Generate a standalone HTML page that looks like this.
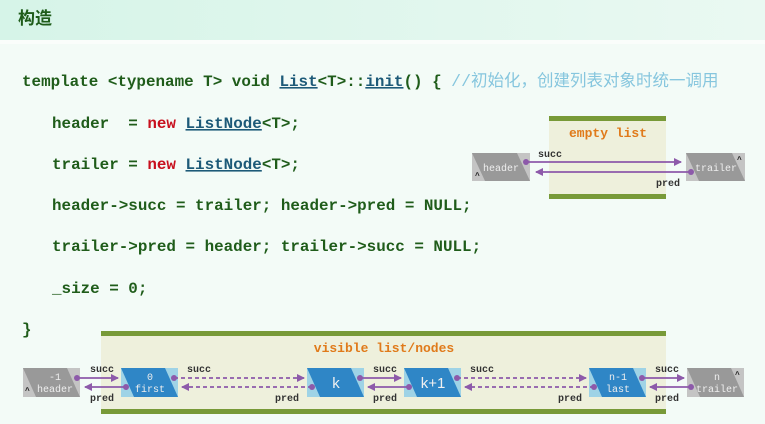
<!DOCTYPE html>
<html><head><meta charset="utf-8"><style>
html,body{margin:0;padding:0;}
body{width:765px;height:424px;overflow:hidden;background:#f3fbf7;position:relative;}
svg{position:absolute;left:0;top:0;}
.code{font-family:"Liberation Mono",monospace;font-weight:bold;font-size:15.9px;fill:#1f5c1a;white-space:pre;}
.kw{fill:#c8101e;}
.ty{fill:#1d5a78;}
.cm{fill:#86c6de;font-family:"Liberation Mono","Noto Sans CJK SC",monospace;font-weight:normal;font-size:16.5px;}
.lb{font-family:"Liberation Mono",monospace;font-weight:bold;font-size:10px;fill:#333;}
.nd{font-family:"Liberation Mono",monospace;font-size:10px;fill:#eee;text-anchor:middle;}
.ttl{font-family:"Liberation Mono",monospace;font-weight:bold;font-size:13px;fill:#e07a1a;text-anchor:middle;}
</style></head><body>
<svg width="765" height="424" viewBox="0 0 765 424">
<defs>
<linearGradient id="hg" x1="0" x2="1"><stop offset="0" stop-color="#d6f4e8"/><stop offset="1" stop-color="#eaf9f2"/></linearGradient>
<marker id="ar" markerWidth="8" markerHeight="8" refX="7" refY="4" orient="auto" markerUnits="userSpaceOnUse"><path d="M0,0 L8,4 L0,8 z" fill="#8d5aaa"/></marker>
</defs>
<rect x="0" y="0" width="765" height="40" fill="url(#hg)"/>
<rect x="0" y="40" width="765" height="4" fill="#fafdfb"/>
<text x="18" y="24" font-family="'Liberation Sans','Noto Sans CJK SC',sans-serif" font-weight="bold" font-size="17" fill="#1f5c1a">构造</text>

<text class="code" x="22" y="86">template &lt;typename T&gt; void <tspan class="ty" text-decoration="underline">List</tspan>&lt;T&gt;::<tspan class="ty" text-decoration="underline">init</tspan>() { <tspan class="cm">//初始化，创建列表对象时统一调用</tspan></text>
<text class="code" x="52" y="128">header&#160;&#160;= <tspan class="kw">new</tspan> <tspan class="ty" text-decoration="underline">ListNode</tspan>&lt;T&gt;;</text>
<text class="code" x="52" y="169">trailer = <tspan class="kw">new</tspan> <tspan class="ty" text-decoration="underline">ListNode</tspan>&lt;T&gt;;</text>
<text class="code" x="52" y="210">header-&gt;succ = trailer; header-&gt;pred = NULL;</text>
<text class="code" x="52" y="251">trailer-&gt;pred = header; trailer-&gt;succ = NULL;</text>
<text class="code" x="52" y="293">_size = 0;</text>
<text class="code" x="22" y="334">}</text>

<rect x="549" y="116" width="117" height="82" fill="#eef0dc"/>
<rect x="549" y="116" width="117" height="5" fill="#789a38"/>
<rect x="549" y="194" width="117" height="5" fill="#789a38"/>
<text class="ttl" x="608" y="137">empty list</text>
<rect x="472" y="153" width="58" height="28" fill="#c4c4c4"/>
<polygon points="472,153 517,153 530,181 485,181" fill="#999"/>
<text class="nd" x="501" y="171">header</text>
<text x="475" y="178" font-size="8" font-family="Liberation Sans" font-weight="bold" fill="#222">^</text>
<rect x="686" y="153" width="59" height="28" fill="#c4c4c4"/>
<polygon points="686,153 732,153 745,181 699,181" fill="#999"/>
<text class="nd" x="716" y="171">trailer</text>
<text x="737" y="162" font-size="8" font-family="Liberation Sans" font-weight="bold" fill="#222">^</text>
<line x1="526" y1="162" x2="681" y2="162" stroke="#8d5aaa" stroke-width="1.8" marker-end="url(#ar)"/>
<circle cx="526" cy="162" r="3" fill="#8d5aaa"/>
<line x1="691" y1="172" x2="536" y2="172" stroke="#8d5aaa" stroke-width="1.8" marker-end="url(#ar)"/>
<circle cx="691" cy="172" r="3" fill="#8d5aaa"/>
<text class="lb" x="538" y="157">succ</text>
<text class="lb" x="656" y="186">pred</text>

<rect x="101" y="331" width="565" height="83" fill="#eef0dc"/>
<rect x="101" y="331" width="565" height="5" fill="#789a38"/>
<rect x="101" y="409" width="565" height="5" fill="#789a38"/>
<text class="ttl" x="384" y="352">visible list/nodes</text>

<rect x="23" y="368" width="57" height="29" fill="#c4c4c4"/>
<polygon points="23,368 67,368 80,397 36,397" fill="#999"/>
<text class="nd" x="55" y="380">-1</text>
<text class="nd" x="55" y="392">header</text>
<text x="25" y="393" font-size="8" font-family="Liberation Sans" font-weight="bold" fill="#222">^</text>
<rect x="687" y="368" width="57" height="29" fill="#c4c4c4"/>
<polygon points="687,368 731,368 744,397 700,397" fill="#999"/>
<text class="nd" x="717" y="380">n</text>
<text class="nd" x="717" y="392">trailer</text>
<text x="735" y="377" font-size="8" font-family="Liberation Sans" font-weight="bold" fill="#222">^</text>

<g>
<rect x="121" y="368" width="57" height="29" fill="#9fd3e6"/>
<polygon points="121,368 165,368 178,397 134,397" fill="#2f86c6"/>
<text class="nd" x="150" y="380" fill="#fff">0</text>
<text class="nd" x="150" y="392" fill="#fff">first</text>
</g>
<g>
<rect x="307" y="368" width="57" height="29" fill="#9fd3e6"/>
<polygon points="307,368 351,368 364,397 320,397" fill="#2f86c6"/>
<text x="336" y="388" font-family="Liberation Sans" font-size="15" fill="#f0f0f0" text-anchor="middle">k</text>
</g>
<g>
<rect x="404" y="368" width="57" height="29" fill="#9fd3e6"/>
<polygon points="404,368 448,368 461,397 417,397" fill="#2f86c6"/>
<text x="433" y="388" font-family="Liberation Sans" font-size="15" fill="#f0f0f0" text-anchor="middle">k+1</text>
</g>
<g>
<rect x="589" y="368" width="57" height="29" fill="#9fd3e6"/>
<polygon points="589,368 633,368 646,397 602,397" fill="#2f86c6"/>
<text class="nd" x="618" y="380" fill="#fff">n-1</text>
<text class="nd" x="618" y="392" fill="#fff">last</text>
</g>

<g stroke="#8d5aaa" stroke-width="1.8" fill="none">
<line x1="77" y1="378" x2="118" y2="378" marker-end="url(#ar)"/>
<line x1="126" y1="387" x2="85" y2="387" marker-end="url(#ar)"/>
<line x1="174" y1="378" x2="304" y2="378" stroke-dasharray="4,3" marker-end="url(#ar)"/>
<line x1="312" y1="387" x2="182" y2="387" stroke-dasharray="4,3" marker-end="url(#ar)"/>
<line x1="360" y1="378" x2="401" y2="378" marker-end="url(#ar)"/>
<line x1="409" y1="387" x2="368" y2="387" marker-end="url(#ar)"/>
<line x1="457" y1="378" x2="586" y2="378" stroke-dasharray="4,3" marker-end="url(#ar)"/>
<line x1="594" y1="387" x2="465" y2="387" stroke-dasharray="4,3" marker-end="url(#ar)"/>
<line x1="642" y1="378" x2="684" y2="378" marker-end="url(#ar)"/>
<line x1="691" y1="387" x2="650" y2="387" marker-end="url(#ar)"/>
</g>
<g fill="#8d5aaa">
<circle cx="77" cy="378" r="3"/><circle cx="126" cy="387" r="3"/>
<circle cx="174" cy="378" r="3"/><circle cx="312" cy="387" r="3"/>
<circle cx="360" cy="378" r="3"/><circle cx="409" cy="387" r="3"/>
<circle cx="457" cy="378" r="3"/><circle cx="594" cy="387" r="3"/>
<circle cx="642" cy="378" r="3"/><circle cx="691" cy="387" r="3"/>
</g>
<text class="lb" x="90" y="372">succ</text>
<text class="lb" x="90" y="401">pred</text>
<text class="lb" x="187" y="372">succ</text>
<text class="lb" x="275" y="401">pred</text>
<text class="lb" x="373" y="372">succ</text>
<text class="lb" x="373" y="401">pred</text>
<text class="lb" x="470" y="372">succ</text>
<text class="lb" x="558" y="401">pred</text>
<text class="lb" x="655" y="372">succ</text>
<text class="lb" x="655" y="401">pred</text>
</svg>
</body></html>
